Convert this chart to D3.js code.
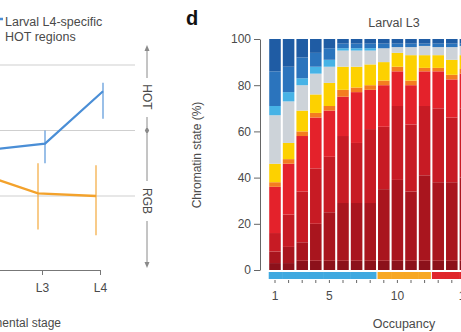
<!DOCTYPE html>
<html><head><meta charset="utf-8">
<script src="https://cdn.jsdelivr.net/npm/d3@7"></script>
<style>body{margin:0;background:#fff}svg{display:block}text{font-family:"Liberation Sans",Arial,Helvetica,sans-serif}</style>
</head><body><svg id="c" width="461" height="332"></svg>
<script>
// ---------- Panel c (partial): developmental stage ----------
const stages = ["L2", "L3", "L4"];
const stageLabels = ["L3", "L4"];
const hotMean = [-0.30, -0.20, 0.60];
const hotLo   = [-0.55, -0.50, 0.18];
const hotHi   = [-0.05,  0.00, 0.73];
const rgbMean = [-0.66, -0.96, -1.00];
const rgbLo   = [-1.10, -1.51, -1.60];
const rgbHi   = [-0.20, -0.50, -0.53];
const gridValues = [-1, 0, 1];

// ---------- Panel d: chromatin state by occupancy ----------
const occupancy = [1,2,3,4,5,6,7,8,9,10,11,12,13,14,15];
const occupancyClass = ["low","low","low","low","low","low","low","low","mid","mid","mid","mid","high","high","high"];
const stateKeys = ["s1","s2","s3","s4","s5","s6","s7","s8","s9","s10"];
const stateColors = ["#8c111b","#a9151e","#c71b24","#e4222b","#f47c20","#fdd100","#cdd3d9","#47b3e6","#2b74bd","#1f5ca4"];
const s1  = [3,3,4,4,4,4,4,4,4,4,4,4,4,4,4];
const s2  = [5,7,8,16,21,25,25,25,31,35,30,37,34,34,36];
const s3  = [8,14,22,24,24,29,26,32,27,32,29,30,32,28,30];
const s4  = [20,22,24,22,20,17,22,17,18,15,17,15,16,16.5,15];
const s5  = [2,2,2,2,2,3,2,2,2,2,2,1.5,1.5,2,2];
const s6  = [8,7,9,8,10,10,9,9,8,6,11,5.5,5.5,6.5,6];
const s7  = [21,18,11,9,7,7,7,6,6,2.5,3.5,4,3.5,5.5,4];
const s8  = [4,4,3,3,3,1,1,1,0,0,0,0,0,0,0];
const s9  = [15,11,9,6,5,2,2,2,2,1.5,1.5,1,1.5,1.5,1];
const s10 = [14,12,8,6,4,2,2,2,2,2,2,2,2,2,2];
const yTicks = [0, 20, 40, 60, 80, 100];
const xTickLabels = [1, 5, 10, 15];
const classColors = {low: "#3fa9e0", mid: "#f7a823", high: "#e0262b"};

const svg = d3.select("#c");
const txt = "#4a4a4a";

// ===== left panel =====
const xL = d3.scalePoint().domain(stages).range([-16, 100]);
const yL = d3.scaleLinear().domain([-1, 1]).range([196, 65]);

svg.append("g").selectAll("line").data(gridValues).join("line")
  .attr("x1", 0).attr("x2", 135)
  .attr("y1", d => yL(d)).attr("y2", d => yL(d))
  .attr("stroke", "#cfcfcf").attr("stroke-width", 1);

const axL = svg.append("g").attr("transform", "translate(0,270)")
  .call(d3.axisBottom(xL).tickValues(stageLabels).tickSize(5).tickSizeOuter(0).tickPadding(8));
axL.select(".domain").attr("stroke", "#777");
axL.selectAll(".tick line").attr("stroke", "#777");
axL.selectAll("text").attr("font-size", 12).attr("fill", txt);

svg.append("text").attr("x", 61).attr("y", 327).attr("text-anchor", "end")
  .attr("font-size", 12).attr("fill", txt).text("Developmental stage");

function series(mean, lo, hi, off, color, w) {
  const g = svg.append("g");
  g.selectAll("line").data(stages).join("line")
    .attr("x1", d => xL(d) + off).attr("x2", d => xL(d) + off)
    .attr("y1", (d, i) => yL(lo[i])).attr("y2", (d, i) => yL(hi[i]))
    .attr("stroke", color).attr("stroke-width", 1.3).attr("opacity", 0.85);
  g.append("path").datum(mean)
    .attr("d", d3.line().x((d, i) => xL(stages[i]) + off).y(d => yL(d)))
    .attr("fill", "none").attr("stroke", color).attr("stroke-width", w);
}
series(rgbMean, rgbLo, rgbHi, -4, "#f3a22c", 2.4);
series(hotMean, hotLo, hotHi, 3, "#4a8ed6", 2.2);

// legend
svg.append("line").attr("x1", -8).attr("x2", 3).attr("y1", 19).attr("y2", 19)
  .attr("stroke", "#4a8ed6").attr("stroke-width", 2.5);
svg.append("text").attr("x", 5).attr("y", 26).attr("font-size", 12.5).attr("fill", txt).text("Larval L4-specific");
svg.append("text").attr("x", 5).attr("y", 41).attr("font-size", 12.5).attr("fill", txt).text("HOT regions");

// HOT / RGB arrow
const ax = 147, ac = "#8a8a8a";
const arr = svg.append("g").attr("stroke", ac).attr("stroke-width", 1);
[[48, 78], [117, 127], [134, 181], [221, 265]].forEach(s =>
  arr.append("line").attr("x1", ax).attr("x2", ax).attr("y1", s[0]).attr("y2", s[1]));
svg.append("path").attr("d", `M${ax},45 L${ax-2.5},51 L${ax+2.5},51 Z`).attr("fill", ac);
svg.append("path").attr("d", `M${ax},268 L${ax-2.5},262 L${ax+2.5},262 Z`).attr("fill", ac);
svg.append("path").attr("d", `M${ax},126.5 L${ax-2.2},130.5 L${ax},134.5 L${ax+2.2},130.5 Z`).attr("fill", ac);
[["HOT", 97], ["RGB", 201]].forEach(t =>
  svg.append("text").attr("transform", `translate(${ax-4},${t[1]}) rotate(90)`)
    .attr("text-anchor", "middle").attr("font-size", 12).attr("fill", txt).text(t[0]));

// ===== right panel =====
svg.append("text").attr("x", 186).attr("y", 25).attr("font-size", 20).attr("font-weight", "bold")
  .attr("fill", "#111").text("d");

const xR = d3.scaleBand().domain(occupancy).range([268.2, 472.2]).paddingInner(0.15).paddingOuter(0.075);
const yR = d3.scaleLinear().domain([0, 100]).range([270, 39]);

const cols = {s1, s2, s3, s4, s5, s6, s7, s8, s9, s10};
const rows = occupancy.map((o, i) => {
  const r = {occ: o};
  stateKeys.forEach(k => r[k] = cols[k][i]);
  return r;
});
const stacked = d3.stack().keys(stateKeys)(rows);

svg.append("g").selectAll("g").data(stacked).join("g")
  .attr("fill", (d, i) => stateColors[i])
  .selectAll("rect").data(d => d).join("rect")
  .attr("x", d => xR(d.data.occ)).attr("width", xR.bandwidth())
  .attr("y", d => yR(d[1])).attr("height", d => Math.max(0, yR(d[0]) - yR(d[1])));

// occupancy class strip
svg.append("g").selectAll("rect").data(occupancy).join("rect")
  .attr("x", d => xR(d) - 0.5)
  .attr("width", (d, i) => (i < occupancy.length - 1 && occupancyClass[i + 1] === occupancyClass[i]) ? xR.step() + 0.5 : xR.bandwidth() + 1)
  .attr("y", 272).attr("height", 7)
  .attr("fill", (d, i) => classColors[occupancyClass[i]]);

const ayR = svg.append("g").attr("transform", "translate(260,0)")
  .call(d3.axisLeft(yR).tickValues(yTicks).tickSize(6).tickSizeOuter(0).tickPadding(3));
ayR.select(".domain").attr("stroke", "#666");
ayR.selectAll(".tick line").attr("stroke", "#666");
ayR.selectAll("text").attr("font-size", 12).attr("fill", txt);

const axR = svg.append("g").attr("transform", "translate(0,280)")
  .call(d3.axisBottom(xR).tickSize(3).tickPadding(8)
    .tickFormat(d => xTickLabels.includes(d) ? d : ""));
axR.select(".domain").remove();
axR.selectAll(".tick line").attr("stroke", "#666");
axR.selectAll("text").attr("font-size", 12).attr("fill", txt);

svg.append("text").attr("transform", "translate(201,155) rotate(-90)").attr("text-anchor", "middle")
  .attr("font-size", 12).attr("fill", txt).text("Chromatin state (%)");
svg.append("text").attr("x", 394).attr("y", 27).attr("text-anchor", "middle")
  .attr("font-size", 12.5).attr("fill", txt).text("Larval L3");
svg.append("text").attr("x", 404).attr("y", 328).attr("text-anchor", "middle")
  .attr("font-size", 12.5).attr("fill", txt).text("Occupancy");
</script></body></html>
